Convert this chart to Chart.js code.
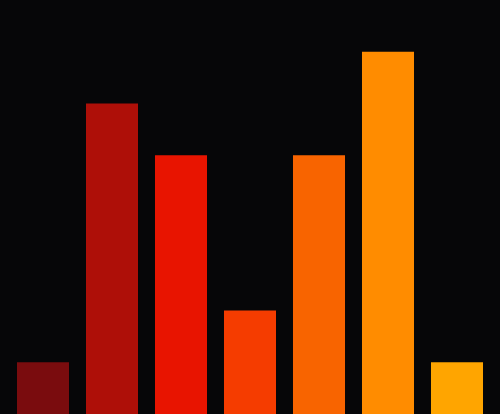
<!DOCTYPE html>
<html>
<head>
<meta charset="utf-8">
<script src="https://cdn.jsdelivr.net/npm/chart.js@4"></script>
<style>
    html, body { margin: 0; padding: 0; background: #060608; }
    #wrap { width: 500px; height: 414px; }
</style>
</head>
<body>
<div id="wrap"><canvas id="bar-chart"></canvas></div>
<script>
const categories = ['A', 'B', 'C', 'D', 'E', 'F', 'G'];
const values = [1, 6, 5, 2, 5, 7, 1];
const barColors = ['#7a0c0e', '#ae0f08', '#e81400', '#f53c00', '#f86400', '#ff8c00', '#ffa500'];
const yMax = 8;

const ctx = document.getElementById('bar-chart').getContext('2d');
new Chart(ctx, {
    type: 'bar',
    data: {
        labels: categories,
        datasets: [{
            data: values,
            backgroundColor: barColors,
            borderWidth: 0,
            categoryPercentage: 1,
            barPercentage: 0.754
        }]
    },
    options: {
        responsive: true,
        maintainAspectRatio: false,
        animation: false,
        layout: {
            padding: { left: 8.5, right: 8.5, top: 0, bottom: 0 }
        },
        plugins: {
            legend: { display: false },
            tooltip: { enabled: false }
        },
        scales: {
            x: { display: false },
            y: { display: false, min: 0, max: yMax }
        }
    }
});
</script>
</body>
</html>
